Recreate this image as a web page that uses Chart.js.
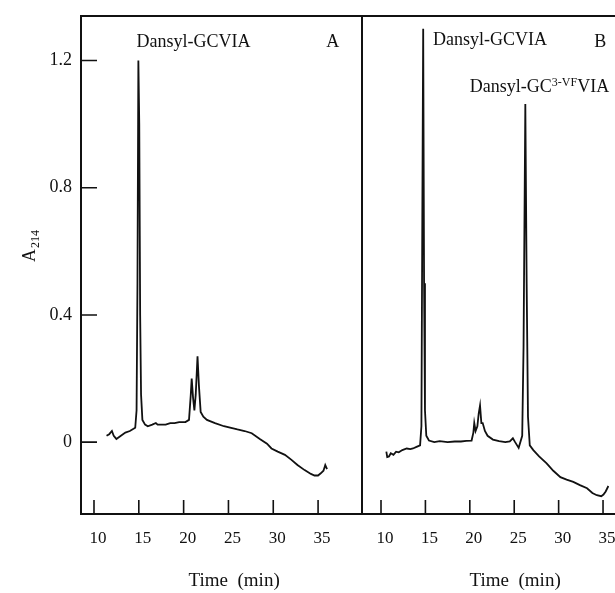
<!DOCTYPE html>
<html>
<head>
<meta charset="utf-8">
<script src="https://cdn.jsdelivr.net/npm/chart.js@4.4.0/dist/chart.umd.min.js"></script>
<style>
html, body { margin: 0; padding: 0; background: #fff; overflow: hidden; }
#wrap { position: relative; width: 615px; height: 593px; overflow: hidden; }
#chartA { position: absolute; left: 0; top: 0; }
#chartB { position: absolute; left: 352px; top: 0; }
</style>
</head>
<body>
<div id="wrap">
<canvas id="chartA" width="363" height="593"></canvas>
<canvas id="chartB" width="293" height="593"></canvas>
</div>
<script>
// retention time (min) and absorbance, panel A
const timeA = [11.4, 11.7, 12.0, 12.2, 12.5, 13.0, 13.5, 14.0, 14.6, 14.75, 14.85, 14.95, 15.05, 15.15, 15.25, 15.4,
    15.7, 16.0, 16.5, 16.9, 17.1, 17.5, 18.0, 18.5, 19.0, 19.5, 20.2, 20.6, 20.8, 20.9, 21.05, 21.2, 21.35, 21.55,
    21.7, 21.9, 22.2, 22.6, 23.5, 24.5, 25.3, 26.0, 26.8, 27.6, 28.5, 29.3, 29.8, 30.5, 31.3, 32.0, 32.7, 33.5,
    34.2, 34.6, 35.0, 35.3, 35.6, 35.8, 36.0]
const absA = [0.02, 0.025, 0.035, 0.02, 0.01, 0.02, 0.03, 0.035, 0.045, 0.1, 0.5, 1.2, 1.0, 0.4, 0.15, 0.07,
    0.055, 0.05, 0.055, 0.06, 0.055, 0.055, 0.055, 0.06, 0.06, 0.063, 0.063, 0.07, 0.15, 0.2, 0.14, 0.1, 0.15, 0.27,
    0.18, 0.095, 0.08, 0.07, 0.06, 0.05, 0.045, 0.04, 0.035, 0.028, 0.01, -0.005, -0.02, -0.03, -0.04, -0.055, -0.072, -0.088,
    -0.1, -0.105, -0.105, -0.098, -0.09, -0.072, -0.085]

// panel B
const timeB = [10.6, 10.7, 10.9, 11.1, 11.4, 11.7, 12.0, 12.4, 12.9, 13.3, 13.6, 14.0, 14.4, 14.55, 14.65, 14.75, 14.85,
    14.95, 15.1, 15.4, 16.0, 16.6, 17.5, 18.3, 19.0, 19.6, 20.2, 20.4, 20.5, 20.65, 20.85, 21.0, 21.15, 21.3, 21.45,
    21.7, 22.0, 22.6, 23.3, 24.0, 24.5, 24.85, 25.1, 25.5, 25.9, 26.05, 26.25, 26.4, 26.55, 26.75, 27.15, 27.8, 28.65,
    29.4, 30.2, 30.9, 31.65, 32.4, 33.2, 33.8, 34.3, 34.8, 35.05, 35.3, 35.6]
const absB = [-0.03, -0.047, -0.045, -0.035, -0.04, -0.03, -0.032, -0.025, -0.02, -0.022, -0.02, -0.015, -0.01, 0.05, 0.7, 1.3, 0.5,
    0.1, 0.02, 0.005, 0.0, 0.003, 0.0, 0.002, 0.002, 0.004, 0.005, 0.03, 0.06, 0.035, 0.05, 0.09, 0.115, 0.06, 0.06,
    0.035, 0.02, 0.008, 0.003, 0.0, 0.002, 0.012, 0.0, -0.018, 0.02, 0.3, 1.063, 0.5, 0.08, -0.01, -0.025, -0.045, -0.067,
    -0.09, -0.11, -0.118, -0.125, -0.135, -0.145, -0.16, -0.167, -0.17, -0.165, -0.155, -0.138]

const yTicks = [0, 0.4, 0.8, 1.2]
const xTicks = [10, 15, 20, 25, 30, 35]

const SERIF = '"Liberation Serif", "DejaVu Serif", serif'
const INK = '#111'

function points(xs, ys)
{
    return xs.map((x, i) => ({ x: x, y: ys[i] }))
}

// frame, inward ticks and text labels
const decor = {
    id: 'decor',
    afterDraw(chart, args, opts)
    {
        const ctx = chart.ctx
        const a = chart.chartArea
        const sx = chart.scales.x
        const sy = chart.scales.y
        ctx.save()
        ctx.strokeStyle = INK
        ctx.lineWidth = 2
        ctx.strokeRect(a.left, a.top, a.right - a.left, a.bottom - a.top)

        ctx.lineWidth = 1.6
        ctx.beginPath()
        xTicks.forEach(v => {
            const px = sx.getPixelForValue(v)
            ctx.moveTo(px, a.bottom)
            ctx.lineTo(px, a.bottom - 14)
        })
        if (opts.yTicks) {
            yTicks.forEach(v => {
                const py = sy.getPixelForValue(v)
                ctx.moveTo(a.left, py)
                ctx.lineTo(a.left + 16, py)
            })
        }
        ctx.stroke()

        ctx.fillStyle = INK
        ctx.textBaseline = 'alphabetic'
        ctx.textAlign = 'left'
        ;(opts.labels || []).forEach(l => {
            let px = sx.getPixelForValue(l.x)
            const py = sy.getPixelForValue(l.y)
            l.parts.forEach(p => {
                ctx.font = (p.sup ? '12px ' : '18px ') + SERIF
                ctx.fillText(p.t, px, p.sup ? py - 6 : py)
                px += ctx.measureText(p.t).width
            })
        })

        // x axis title, sitting a little right of centre as in the original
        ctx.textAlign = 'center'
        ctx.font = '19px ' + SERIF
        ctx.fillText('Time  (min)', a.left + 0.545 * (a.right - a.left), 586)

        if (opts.yTitle) {
            ctx.textAlign = 'left'
            ctx.translate(35, 262)
            ctx.rotate(-Math.PI / 2)
            ctx.font = '18px ' + SERIF
            ctx.fillText('A', 0, 0)
            const w = ctx.measureText('A').width
            ctx.font = '12px ' + SERIF
            ctx.fillText('214', w + 1, 4)
        }
        ctx.restore()
    }
}

function makeOptions(xmin, xmax, showY, pad, decorOpts)
{
    return {
        responsive: false,
        animation: false,
        layout: { padding: pad },
        plugins: {
            legend: { display: false },
            tooltip: { enabled: false },
            decor: decorOpts
        },
        scales: {
            x: {
                type: 'linear',
                min: xmin,
                max: xmax,
                afterBuildTicks: s => { s.ticks = xTicks.map(v => ({ value: v })) },
                afterFit: s => {
                    s.height = 79
                    s.paddingLeft = 0
                    s.paddingRight = 0
                },
                grid: { display: false, drawTicks: false },
                border: { display: false },
                ticks: {
                    padding: 14,
                    labelOffset: 4,
                    color: INK,
                    font: { family: SERIF, size: 17 },
                    maxRotation: 0,
                    callback: v => String(v)
                }
            },
            y: {
                display: showY,
                min: -0.226,
                max: 1.34,
                afterBuildTicks: s => { s.ticks = yTicks.map(v => ({ value: v })) },
                afterFit: s => {
                    s.width = showY ? 81 : 0
                    s.paddingTop = 0
                    s.paddingBottom = 0
                },
                grid: { display: false, drawTicks: false },
                border: { display: false },
                ticks: {
                    padding: 9,
                    color: INK,
                    font: { family: SERIF, size: 18 },
                    callback: v => v === 0 ? '0' : v.toFixed(1)
                }
            }
        }
    }
}

function lineDataset(xs, ys)
{
    return {
        data: points(xs, ys),
        borderColor: INK,
        borderWidth: 1.8,
        pointRadius: 0,
        tension: 0,
        fill: false
    }
}

new Chart('chartA', {
    type: 'line',
    data: { datasets: [lineDataset(timeA, absA)] },
    options: makeOptions(8.55, 39.9, true, { top: 16, right: 1, left: 0, bottom: 0 }, {
        yTicks: true,
        yTitle: true,
        labels: [
            { x: 14.74, y: 1.242, parts: [{ t: 'Dansyl-GCVIA' }] },
            { x: 35.9, y: 1.242, parts: [{ t: 'A' }] }
        ]
    }),
    plugins: [decor]
})

new Chart('chartB', {
    type: 'line',
    data: { datasets: [lineDataset(timeB, absB)] },
    options: makeOptions(7.86, 39.5, false, { top: 16, right: 2, left: 10, bottom: 0 }, {
        yTicks: false,
        yTitle: false,
        labels: [
            { x: 15.86, y: 1.25, parts: [{ t: 'Dansyl-GCVIA' }] },
            { x: 34.0, y: 1.242, parts: [{ t: 'B' }] },
            { x: 20.0, y: 1.10, parts: [{ t: 'Dansyl-GC' }, { t: '3-VF', sup: true }, { t: 'VIA' }] }
        ]
    }),
    plugins: [decor]
})
</script>
</body>
</html>
